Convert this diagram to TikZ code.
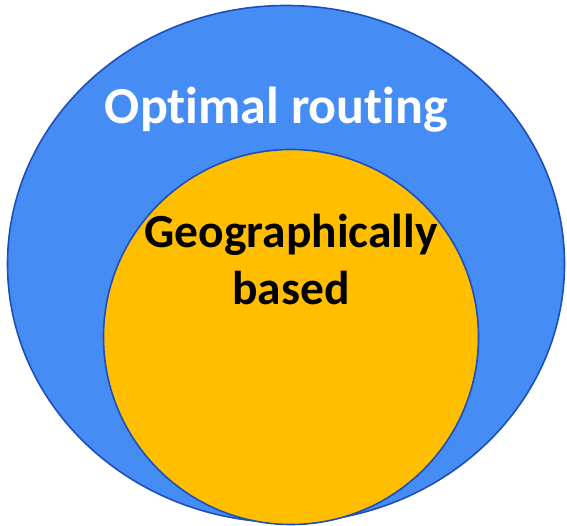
\documentclass[tikz,border=0pt]{standalone}
\usepackage{fontspec}
\setmainfont[Ligatures={NoCommon}]{Carlito}
\definecolor{outerfill}{HTML}{468CF5}
\definecolor{edgeblue}{HTML}{1E4FB8}
\definecolor{innerfill}{HTML}{FFBE00}
\tikzset{
  setshape/.style={draw=edgeblue, line width=1.6pt},
  biglabel/.style={font=\bfseries\fontsize{52}{58}\selectfont, text=white, anchor=base, inner sep=0pt},
  smalllabel/.style={font=\bfseries\fontsize{47.5}{58}\selectfont, text=black, anchor=base, inner sep=0pt},
}
\begin{document}
\begin{tikzpicture}[x=1pt,y=-1pt]
\useasboundingbox (0,0) rectangle (567,526);
\path[setshape, fill=outerfill] (286,264) ellipse [x radius=278.5, y radius=258.5];
\path[setshape, fill=innerfill] (291,337) circle [radius=187.5];
\node[biglabel] (outer) at (276.5,124) {Optimal routing};
\node[smalllabel] (inner1) at (291,248) {Geographically};
\node[smalllabel] (inner2) at (291,305) {based};
\end{tikzpicture}
\end{document}
